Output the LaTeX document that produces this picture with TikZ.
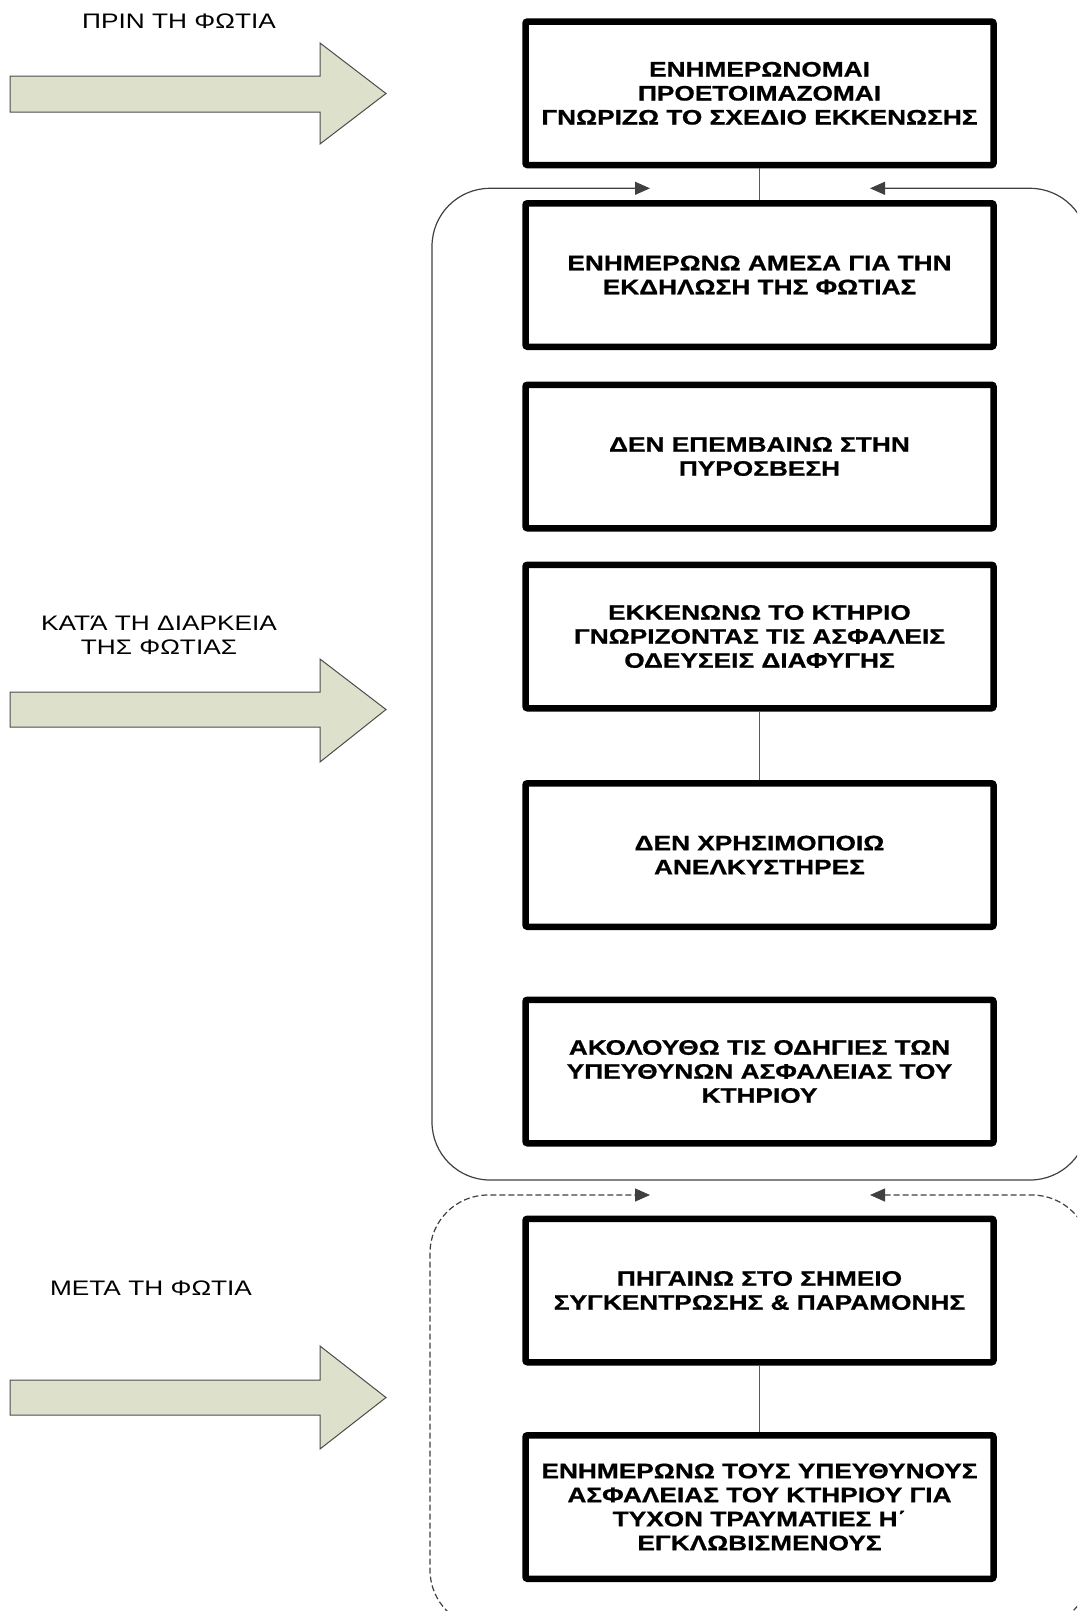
\documentclass[tikz,border=0pt]{standalone}
\usepackage{fontspec}
\setmainfont{Liberation Sans}[FakeStretch=1.25, BoldFeatures={FakeBold=0.8}]
\usetikzlibrary{arrows.meta}
\definecolor{arrowfill}{RGB}{221,225,203}
\tikzset{
 stepbox/.style={draw=black, line width=6.5pt, rounded corners=2pt, minimum width=468pt, minimum height=143.5pt, inner sep=0pt, align=center, font=\fontsize{21}{24}\selectfont\bfseries},
 phase/.style={align=center, font=\fontsize{21}{24}\selectfont},
 link/.style={draw=black!65, line width=1.2pt},
 frame/.style={draw=black!75, line width=1.2pt, rounded corners=58pt},
 blockarrow/.style={draw=black!70, line width=1pt, fill=arrowfill},
 twotips/.style={{Triangle[length=15pt,width=13pt]}-{Triangle[length=15pt,width=13pt]}},
}
\begin{document}
\begin{tikzpicture}[x=1pt,y=-1pt]
\useasboundingbox (0,0) rectangle (1077,1611);
\clip (0,0) rectangle (1077,1611);
% phase labels
\node[phase] (p1) at (179,21) {ΠΡΙΝ ΤΗ ΦΩΤΙΑ};
\node[phase] (p2) at (159,635) {ΚΑΤΆ ΤΗ ΔΙΑΡΚΕΙΑ\\ΤΗΣ ΦΩΤΙΑΣ};
\node[phase] (p3) at (151,1288) {ΜΕΤΑ ΤΗ ΦΩΤΙΑ};
% block arrows
\draw[blockarrow] (10,76) -- (320,76) -- (320,43) -- (386,93.5) -- (320,144) -- (320,112) -- (10,112) -- cycle;
\draw[blockarrow] (10,692) -- (320,692) -- (320,659) -- (386,709.5) -- (320,762) -- (320,727) -- (10,727) -- cycle;
\draw[blockarrow] (10,1380) -- (320,1380) -- (320,1346) -- (386,1397.5) -- (320,1449) -- (320,1415) -- (10,1415) -- cycle;
% containers
\draw[frame, twotips] (870,188.3) -- (1088,188.3) -- (1088,1180) -- (432,1180) -- (432,188.3) -- (650,188.3);
\draw[frame, twotips, dash pattern=on 6pt off 3pt] (870,1195) -- (1090,1195) -- (1090,1628) -- (430,1628) -- (430,1195) -- (650,1195);
% steps
\node[stepbox] (b1) at (759.5,93.3) {ΕΝΗΜΕΡΩΝΟΜΑΙ\\ΠΡΟΕΤΟΙΜΑΖΟΜΑΙ\\ΓΝΩΡΙΖΩ ΤΟ ΣΧΕΔΙΟ ΕΚΚΕΝΩΣΗΣ};
\node[stepbox] (b2) at (759.5,275) {ΕΝΗΜΕΡΩΝΩ ΑΜΕΣΑ ΓΙΑ ΤΗΝ\\ΕΚΔΗΛΩΣΗ ΤΗΣ ΦΩΤΙΑΣ};
\node[stepbox] (b3) at (759.5,456.5) {ΔΕΝ ΕΠΕΜΒΑΙΝΩ ΣΤΗΝ\\ΠΥΡΟΣΒΕΣΗ};
\node[stepbox] (b4) at (759.5,636.5) {ΕΚΚΕΝΩΝΩ ΤΟ ΚΤΗΡΙΟ\\ΓΝΩΡΙΖΟΝΤΑΣ ΤΙΣ ΑΣΦΑΛΕΙΣ\\ΟΔΕΥΣΕΙΣ ΔΙΑΦΥΓΗΣ};
\node[stepbox] (b5) at (759.5,855) {ΔΕΝ ΧΡΗΣΙΜΟΠΟΙΩ\\ΑΝΕΛΚΥΣΤΗΡΕΣ};
\node[stepbox] (b6) at (759.5,1071.5) {ΑΚΟΛΟΥΘΩ ΤΙΣ ΟΔΗΓΙΕΣ ΤΩΝ\\ΥΠΕΥΘΥΝΩΝ ΑΣΦΑΛΕΙΑΣ ΤΟΥ\\ΚΤΗΡΙΟΥ};
\node[stepbox] (b7) at (759.5,1290.5) {ΠΗΓΑΙΝΩ ΣΤΟ ΣΗΜΕΙΟ\\ΣΥΓΚΕΝΤΡΩΣΗΣ \& ΠΑΡΑΜΟΝΗΣ};
\node[stepbox] (b8) at (759.5,1507) {ΕΝΗΜΕΡΩΝΩ ΤΟΥΣ ΥΠΕΥΘΥΝΟΥΣ\\ΑΣΦΑΛΕΙΑΣ ΤΟΥ ΚΤΗΡΙΟΥ ΓΙΑ\\ΤΥΧΟΝ ΤΡΑΥΜΑΤΙΕΣ Η΄\\ΕΓΚΛΩΒΙΣΜΕΝΟΥΣ};
% connectors
\draw[link] (b1.south) -- (b2.north);
\draw[link] (b4.south) -- (b5.north);
\draw[link] (b7.south) -- (b8.north);
\end{tikzpicture}
\end{document}
